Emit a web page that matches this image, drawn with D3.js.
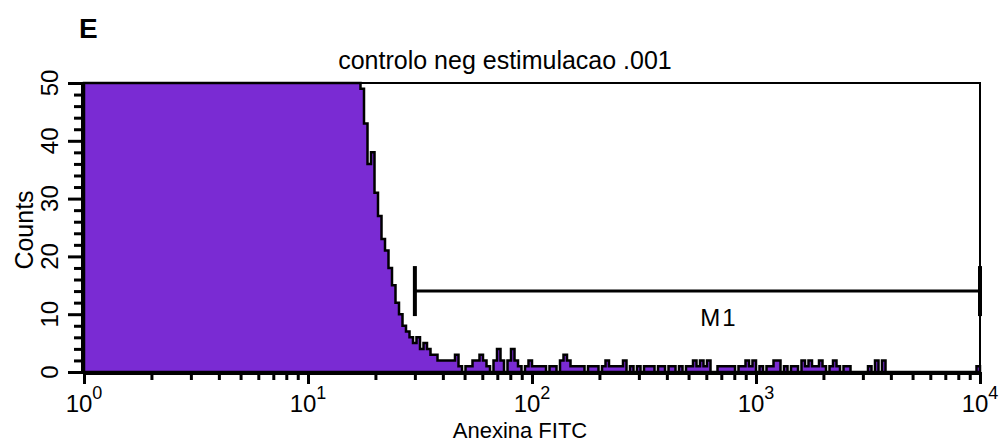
<!DOCTYPE html>
<html>
<head>
<meta charset="utf-8">
<script src="https://cdn.jsdelivr.net/npm/d3@7"></script>
<style>
  body { margin: 0; background: #fff; }
  text { font-family: "Liberation Sans", Arial, sans-serif; fill: #000; }
</style>
</head>
<body>
<svg id="chart" width="1000" height="443"></svg>
<script>
// histogram channels: 256 bins over 4 log decades (64 per decade), counts clipped at 50 on screen
const counts = [
  50,50,50,50,50,50,50,50,50,50,50,50,50,50,50,50,
  50,50,50,50,50,50,50,50,50,50,50,50,50,50,50,50,
  50,50,50,50,50,50,50,50,50,50,50,50,50,50,50,50,
  50,50,50,50,50,50,50,50,50,50,50,50,50,50,50,50,
  50,50,50,50,50,50,50,50,50,50,50,50,50,50,50,49,
  43,36,38,31,27,23,21,18,15,12,10,8,7,6,5,6,
  4,5,4,3,3,2,2,2,2,2,3,1,0,1,1,2,
  2,3,2,1,0,2,4,2,0,2,4,2,1,0,1,2,
  1,1,1,1,0,1,1,0,2,3,2,1,1,1,1,0,
  1,1,1,0,1,2,1,1,1,1,2,0,1,0,1,0,
  1,1,1,0,1,1,0,1,1,0,1,0,1,1,2,1,
  2,1,2,0,0,1,1,1,1,1,0,1,1,2,1,2,
  0,1,0,1,1,2,2,0,1,0,1,1,0,2,1,2,
  1,1,2,1,0,1,2,1,0,1,1,0,0,0,0,0,
  1,0,2,0,2,0,0,0,0,0,0,0,0,0,0,0,
  0,0,0,0,0,0,0,0,0,0,0,0,0,0,0,1
];
const channelsPerDecade = 64;
const xDomain = [1, 10000];
const yDomain = [0, 50];
const yMajorTicks = [0, 10, 20, 30, 40, 50];
const xMajorTicks = [1, 10, 100, 1000, 10000];
const xTickExponents = ["0", "1", "2", "3", "4"];
const markerName = "M1";
const markerRange = [30, 10000];
const markerLevel = 14;
const title = "controlo neg estimulacao .001";
const panelLetter = "E";
const xLabel = "Anexina FITC";
const yLabel = "Counts";

const svg = d3.select("#chart");
const plotLeft = 84, plotRight = 980, plotTop = 83, plotBottom = 372;

const x = d3.scaleLog().domain(xDomain).range([plotLeft, plotRight]);
const y = d3.scaleLinear().domain(yDomain).range([plotBottom, plotTop]).clamp(true);

// step outline of the histogram
const pts = [[x(xDomain[0]), y(0)]];
counts.forEach((c, i) => {
  const x0 = x(Math.pow(10, i / channelsPerDecade));
  const x1 = x(Math.pow(10, (i + 1) / channelsPerDecade));
  pts.push([x0, y(c)], [x1, y(c)]);
});
pts.push([x(xDomain[1]), y(0)]);

svg.append("path")
  .attr("d", d3.line()(pts) + "Z")
  .attr("fill", "#7a2bd3")
  .attr("stroke", "#000")
  .attr("stroke-width", 2.5)
  .attr("stroke-linejoin", "miter");

// frame
svg.append("rect")
  .attr("x", plotLeft).attr("y", plotTop)
  .attr("width", plotRight - plotLeft).attr("height", plotBottom - plotTop)
  .attr("fill", "none")
  .attr("stroke", "#000")
  .attr("stroke-width", 2);

// y axis
const yAxis = d3.axisLeft(y)
  .tickValues(d3.range(0, 51, 2))
  .tickSizeOuter(0)
  .tickSize(8)
  .tickFormat("");
svg.append("g")
  .attr("transform", `translate(${plotLeft - 2},0)`)
  .call(yAxis)
  .call(g => g.select(".domain").attr("stroke-width", 3))
  .call(g => g.selectAll(".tick line").attr("stroke-width", 3)
    .attr("x2", d => yMajorTicks.includes(d) ? -14 : -8));

yMajorTicks.forEach(v => {
  svg.append("text")
    .attr("transform", `translate(58,${y(v)}) rotate(-90)`)
    .attr("text-anchor", "middle")
    .attr("font-size", 24)
    .text(v);
});

svg.append("text")
  .attr("transform", `translate(33,230) rotate(-90)`)
  .attr("text-anchor", "middle")
  .attr("font-size", 25)
  .text(yLabel);

// x axis
const minor = [];
for (let d = 1; d < 10000; d *= 10) {
  for (let k = 1; k < 10; k++) minor.push(d * k);
}
minor.push(10000);
const xAxis = d3.axisBottom(x)
  .tickValues(minor)
  .tickSizeOuter(0)
  .tickSize(7)
  .tickFormat("");
svg.append("g")
  .attr("transform", `translate(0,${plotBottom + 1})`)
  .call(xAxis)
  .call(g => g.select(".domain").attr("stroke-width", 3))
  .call(g => g.selectAll(".tick line").attr("stroke-width", 3)
    .attr("y2", d => xMajorTicks.includes(d) ? 11 : 7));

xMajorTicks.forEach((v, i) => {
  const t = svg.append("text")
    .attr("x", x(v))
    .attr("y", 412)
    .attr("text-anchor", "middle")
    .attr("font-size", 24);
  t.append("tspan").text("10");
  t.append("tspan").attr("dy", -13).attr("font-size", 18).text(xTickExponents[i]);
});

svg.append("text")
  .attr("x", 520).attr("y", 438)
  .attr("text-anchor", "middle")
  .attr("font-size", 22)
  .text(xLabel);

// title and panel letter
svg.append("text")
  .attr("x", 505).attr("y", 69)
  .attr("text-anchor", "middle")
  .attr("font-size", 25)
  .text(title);

svg.append("text")
  .attr("x", 79).attr("y", 38)
  .attr("font-size", 28)
  .attr("font-weight", "bold")
  .text(panelLetter);

// marker M1
const my = y(markerLevel);
const mg = svg.append("g").attr("stroke", "#000");
mg.append("line")
  .attr("x1", x(markerRange[0])).attr("x2", x(markerRange[1]))
  .attr("y1", my).attr("y2", my)
  .attr("stroke-width", 3);
markerRange.forEach(v => {
  mg.append("line")
    .attr("x1", x(v)).attr("x2", x(v))
    .attr("y1", my - 25).attr("y2", my + 25)
    .attr("stroke-width", 4);
});
svg.append("text")
  .attr("x", 719).attr("y", 326)
  .attr("text-anchor", "middle")
  .attr("font-size", 24)
  .attr("letter-spacing", 2)
  .text(markerName);
</script>
</body>
</html>
